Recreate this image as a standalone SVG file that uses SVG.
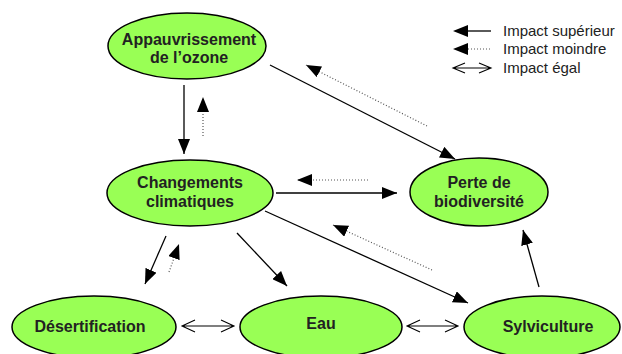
<svg xmlns="http://www.w3.org/2000/svg" width="622" height="354" viewBox="0 0 622 354">
<style>
.node ellipse{fill:#99ff55;stroke:#000;stroke-width:1.5}
.node text{font-family:"Liberation Sans",Arial,sans-serif;font-weight:bold;font-size:16px;fill:#222;text-anchor:middle}
.solid{stroke:#000;stroke-width:1.3;fill:none}
.dot{stroke:#555;stroke-width:1.2;stroke-dasharray:1 2;fill:none}
.open{stroke:#000;stroke-width:1.1;fill:none}
.leg{font-family:"Liberation Sans",Arial,sans-serif;font-size:15px;fill:#222}
</style>
<defs>
<marker id="ah" markerWidth="16" markerHeight="12" refX="15" refY="6" orient="auto" markerUnits="userSpaceOnUse"><path d="M0,0 L15,6 L0,12 z" fill="#000"/></marker>
</defs>
<rect width="622" height="354" fill="#fff"/>
<g id="connectors">
<line class="solid" x1="184" y1="85" x2="184" y2="154" marker-end="url(#ah)"/>
<line class="dot" x1="203" y1="136" x2="203" y2="97" marker-end="url(#ah)"/>
<line class="solid" x1="270" y1="65" x2="455" y2="159" marker-end="url(#ah)"/>
<line class="dot" x1="427" y1="126" x2="306" y2="65" marker-end="url(#ah)"/>
<line class="solid" x1="276" y1="193" x2="397" y2="193" marker-end="url(#ah)"/>
<line class="dot" x1="368" y1="180" x2="297" y2="180" marker-end="url(#ah)"/>
<line class="solid" x1="265" y1="211" x2="468" y2="303" marker-end="url(#ah)"/>
<line class="dot" x1="432" y1="270" x2="333" y2="225" marker-end="url(#ah)"/>
<line class="solid" x1="539" y1="287" x2="523" y2="230" marker-end="url(#ah)"/>
<line class="solid" x1="166" y1="236" x2="145" y2="284" marker-end="url(#ah)"/>
<line class="dot" x1="169" y1="272" x2="179" y2="244" marker-end="url(#ah)"/>
<line class="solid" x1="237" y1="233" x2="287" y2="286" marker-end="url(#ah)"/>
<path class="open" d="M182,326 L234,326 M195,320 L182,326 L195,332 M221,320 L234,326 L221,332"/>
<path class="open" d="M407,326 L458,326 M420,320 L407,326 L420,332 M445,320 L458,326 L445,332"/>
</g>
<g id="n-ozone" class="node"><ellipse cx="187" cy="46" rx="79" ry="33"/><text x="189" y="45">Appauvrissement</text><text x="189" y="63">de l’ozone</text></g>
<g id="n-climat" class="node"><ellipse cx="190" cy="193" rx="83" ry="33"/><text x="190" y="188">Changements</text><text x="190" y="207">climatiques</text></g>
<g id="n-bio" class="node"><ellipse cx="479" cy="192" rx="69" ry="34"/><text x="479" y="188">Perte de</text><text x="479" y="207">biodiversité</text></g>
<g id="n-desert" class="node"><ellipse cx="94" cy="327" rx="82" ry="31"/><text x="90" y="332">Désertification</text></g>
<g id="n-eau" class="node"><ellipse cx="321" cy="327" rx="81" ry="31"/><text x="321" y="329">Eau</text></g>
<g id="n-sylvi" class="node"><ellipse cx="542" cy="327" rx="78" ry="31"/><text x="548" y="332">Sylviculture</text></g>
<g id="legend">
<line class="solid" x1="468" y1="31" x2="491" y2="31"/><path d="M453,31 L468,25 L468,37 z" fill="#000"/>
<line class="dot" x1="468" y1="49" x2="491" y2="49"/><path d="M453,49 L468,43 L468,55 z" fill="#000"/>
<path class="open" d="M453,68 L491,68 M465,63 L453,68 L465,73 M479,63 L491,68 L479,73"/>
<text class="leg" x="503" y="36">Impact supérieur</text>
<text class="leg" x="503" y="54">Impact moindre</text>
<text class="leg" x="503" y="73">Impact égal</text>
</g>
</svg>
